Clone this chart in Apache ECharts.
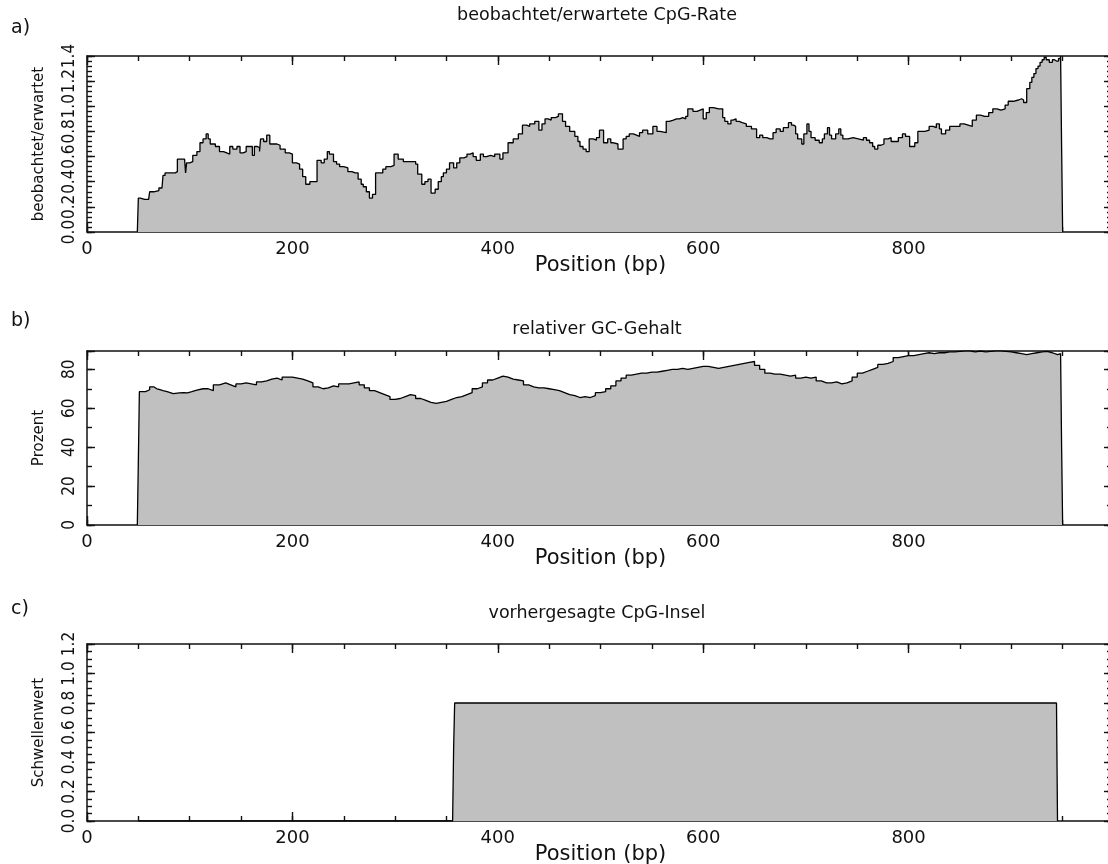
<!DOCTYPE html>
<html><head><meta charset="utf-8">
<script src="https://cdn.jsdelivr.net/npm/echarts@6/dist/echarts.min.js"></script>
<style>html,body{margin:0;padding:0;background:#fff}#c{width:1108px;height:864px}</style>
</head><body><div id="c"></div>
<script>
// ---- Data ----
const xTicks = [0, 200, 400, 600, 800];
// a) observed/expected CpG ratio
const posA = [49,50,52,56,60,61,65,70,73,74,76,80,86,88,92,95,96,97,100,103,107,110,113,116,118,120,125,129,133,136,139,142,146,149,152,155,159,161,163,166,168,169,172,175,178,182,185,188,193,197,200,204,207,210,213,217,220,224,228,231,234,236,238,240,243,246,250,254,258,261,264,267,269,272,275,278,281,285,288,291,296,299,303,308,314,320,322,326,329,332,335,339,342,345,347,350,353,357,360,363,367,370,373,376,379,383,386,389,393,397,402,405,410,415,420,424,428,431,436,440,443,446,449,452,456,459,463,466,470,475,478,480,483,486,489,493,496,499,503,507,510,512,517,522,525,528,532,535,538,541,546,551,555,558,564,567,571,574,577,580,583,585,590,594,597,600,603,606,610,615,619,621,624,627,629,632,635,638,642,647,652,655,658,662,665,668,671,675,678,683,686,688,690,692,696,698,701,703,705,709,713,716,718,721,723,725,729,732,734,736,741,746,751,756,759,762,765,767,770,773,776,780,783,786,790,794,797,801,803,806,809,813,816,820,824,827,830,832,836,840,845,850,854,858,862,866,870,874,878,882,886,890,894,897,902,907,910,912,915,918,920,922,924,926,928,930,932,934,937,940,942,944,946,948,949,950];
const rateA = [0,0.27,0.26,0.26,0.25,0.32,0.33,0.35,0.36,0.45,0.47,0.47,0.48,0.58,0.58,0.57,0.47,0.55,0.56,0.61,0.64,0.71,0.74,0.78,0.74,0.70,0.68,0.64,0.63,0.62,0.68,0.66,0.68,0.63,0.64,0.68,0.68,0.61,0.68,0.67,0.64,0.74,0.72,0.77,0.70,0.70,0.69,0.66,0.63,0.62,0.55,0.54,0.50,0.44,0.38,0.40,0.40,0.57,0.55,0.58,0.64,0.62,0.62,0.56,0.54,0.52,0.51,0.48,0.47,0.47,0.42,0.38,0.36,0.32,0.27,0.30,0.47,0.47,0.50,0.52,0.53,0.62,0.58,0.56,0.56,0.54,0.46,0.38,0.40,0.42,0.31,0.34,0.40,0.44,0.47,0.50,0.55,0.51,0.55,0.59,0.60,0.62,0.63,0.60,0.57,0.62,0.60,0.61,0.60,0.62,0.58,0.63,0.71,0.74,0.78,0.85,0.84,0.86,0.88,0.81,0.86,0.90,0.89,0.91,0.92,0.94,0.88,0.84,0.80,0.76,0.72,0.68,0.66,0.64,0.74,0.73,0.75,0.81,0.71,0.74,0.71,0.70,0.66,0.74,0.76,0.78,0.77,0.76,0.79,0.81,0.78,0.84,0.80,0.79,0.88,0.89,0.90,0.90,0.91,0.90,0.92,0.98,0.96,0.97,0.98,0.90,0.95,0.99,0.98,0.98,0.91,0.88,0.86,0.89,0.90,0.88,0.87,0.86,0.84,0.82,0.75,0.77,0.75,0.74,0.74,0.79,0.82,0.80,0.83,0.87,0.85,0.84,0.78,0.74,0.70,0.78,0.86,0.80,0.75,0.73,0.71,0.74,0.78,0.83,0.77,0.74,0.78,0.82,0.77,0.74,0.75,0.74,0.73,0.75,0.73,0.71,0.68,0.66,0.69,0.70,0.74,0.75,0.72,0.72,0.75,0.78,0.76,0.68,0.68,0.71,0.80,0.80,0.81,0.84,0.83,0.86,0.82,0.78,0.81,0.84,0.84,0.86,0.85,0.84,0.89,0.93,0.92,0.92,0.95,0.98,0.97,0.98,1.01,1.04,1.05,1.06,1.05,1.03,1.14,1.19,1.23,1.26,1.30,1.32,1.35,1.37,1.39,1.37,1.35,1.37,1.36,1.36,1.38,1.40,0.67,0];
// b) relative GC content (%)
const posB = [
  49,50,51,53,57,61,65,68,71,74,78,84,90,94,98,102,107,113,118,123,129,
  135,140,145,150,155,160,165,170,175,180,
  185,190,195,200,205,210,215,220,225,230,
  235,240,245,250,255,260,265,270,275,280,
  285,290,295,300,305,310,315,320,325,330,
  335,340,345,350,355,360,365,370,375,380,
  385,390,395,400,405,410,415,420,425,430,
  435,440,445,450,455,460,465,470,475,480,
  485,490,495,500,505,510,515,520,525,530,
  535,540,545,550,555,560,565,570,575,580,
  585,590,595,600,605,610,615,620,625,630,
  635,640,645,650,655,660,665,670,675,680,
  685,690,695,700,705,710,715,720,725,730,
  735,740,745,750,755,760,765,770,775,780,
  785,790,795,800,805,810,815,820,825,830,
  835,840,845,850,855,860,865,870,875,880,
  885,890,895,900,905,910,915,920,925,930,
  935,940,945,948,949,950];
const gcB = [
  0,33,68.5,68.5,69.5,71,70,69.5,69,68.5,67.5,67.9,68,67.9,68.5,69.3,70,70,69,72,73,
  72,71,72.5,73,72.5,72,73.5,74,75,75.5,
  74.5,76,76,75.5,75,74,73,71,70,70.5,
  71.5,71,72.5,72.5,73,73.5,72,70.5,69,68,
  67,66,64.5,65,66,67,66.5,65,64,63,
  62.5,63,63.5,64.5,65.5,66,67,68,70,71,
  73,74.5,75.5,76.5,76,75,74.5,74,72,71,
  70.5,70.5,70,69.5,69,68,67,66.5,65.5,66,
  65.5,66.5,68,68.5,70,71.5,74,75.5,77,77.5,
  78,78,78.5,78.5,79,79.5,80,80,80.5,80,
  80.5,81,81.5,81.5,81,80.5,81,81.5,82,82.5,
  83,83.5,84,82,80,78,77.5,77.5,77,76.5,
  77,75.5,76,75.5,76,74,73,73,73.5,72.5,
  73,74,76,78,79,80,81,82.5,83,84,
  86,86.5,87,87,87.5,88,88.5,88,88.5,88.5,
  89,89,89.2,89.4,89.4,89,89.4,89,89.2,89.4,
  89.4,89.2,89,88.5,88,87.5,88,88.5,89,89.2,
  88.5,87.5,88,89,40,0];
// c) predicted CpG island (threshold)
const posC = [50,356,357,358,944,945];
const islandC = [0,0,0.5,0.8,0.8,0];

// ---- Chart ----
const FONT = 'DejaVu Sans';
const LINE = '#111';
const zip = (xs, ys) => xs.map((x, i) => [x, ys[i]]);
const grids = [
  {left: 87, top: 56, width: 1027, height: 176, outerBoundsMode: 'none', containLabel: false},
  {left: 87, top: 351, width: 1027, height: 174, outerBoundsMode: 'none', containLabel: false},
  {left: 87, top: 644, width: 1027, height: 177, outerBoundsMode: 'none', containLabel: false}
];
const yCfg = [
  {name: 'beobachtet/erwartet', max: 1.4, interval: 0.2, minor: 0.04, fmt: v => v.toFixed(1)},
  {name: 'Prozent', max: 89.4, interval: 20, minor: 10, fmt: v => String(Math.round(v))},
  {name: 'Schwellenwert', max: 1.2, interval: 0.2, minor: 0.05, fmt: v => v.toFixed(1)}
];
// tick-only helper axis: no line, no labels
function tickAxis(base, interval, len, inside, offset) {
  return Object.assign({}, base, {
    interval: interval,
    offset: offset || 0,
    splitLine: {show: false},
    axisLine: {show: false, onZero: false},
    axisTick: {show: true, inside: inside, length: len, lineStyle: {color: LINE, width: 1.4}},
    axisLabel: {show: false}
  });
}
// frame line axis without ticks
function lineAxis(base, interval, onZero) {
  return Object.assign({}, base, {
    interval: interval,
    splitLine: {show: false},
    axisLine: {show: true, onZero: onZero, lineStyle: {color: LINE, width: 1.5}},
    axisTick: {show: false},
    axisLabel: {show: false}
  });
}
const xAxes = [], yAxes = [];
grids.forEach((g, i) => {
  const xb = {type: 'value', gridIndex: i, min: 0, max: 1000};
  const xMain = lineAxis(Object.assign({position: 'bottom'}, xb), 200, true);
  xMain.name = 'Position (bp)';
  xMain.nameLocation = 'middle';
  xMain.nameGap = 23;
  xMain.nameMoveOverlap = false;
  xMain.nameTextStyle = {fontFamily: FONT, fontSize: 21, color: '#111'};
  xMain.axisLabel = {show: true, margin: 8, fontFamily: FONT, fontSize: 18, color: '#111',
    formatter: v => (xTicks.indexOf(v) >= 0 ? String(v) : '')};
  xAxes.push(xMain);
  // bottom-edge ticks: top-type axes shifted down onto the bottom edge, pointing up into the plot
  xAxes.push(tickAxis(Object.assign({position: 'top'}, xb), 200, 9, false, -g.height));
  xAxes.push(tickAxis(Object.assign({position: 'top'}, xb), 50, 5, false, -g.height));
  // top edge line and ticks pointing down
  xAxes.push(lineAxis(Object.assign({position: 'top'}, xb), 200, false));
  xAxes.push(tickAxis(Object.assign({position: 'top'}, xb), 200, 9, true, 0));
  xAxes.push(tickAxis(Object.assign({position: 'top'}, xb), 50, 5, true, 0));

  const c = yCfg[i];
  const yb = {type: 'value', gridIndex: i, min: 0, max: c.max};
  const yMain = lineAxis(Object.assign({position: 'left'}, yb), c.interval, true);
  yMain.name = c.name;
  yMain.nameLocation = 'middle';
  yMain.nameRotate = 90;
  yMain.nameGap = 40;
  yMain.nameMoveOverlap = false;
  yMain.nameTextStyle = {fontFamily: FONT, fontSize: 15, color: '#111'};
  yMain.axisLabel = {show: true, rotate: 90, margin: 9,
    fontFamily: 'Liberation Sans Narrow, DejaVu Sans Condensed, ' + FONT,
    fontSize: 17, color: '#111', showMaxLabel: i !== 1, formatter: c.fmt};
  yAxes.push(yMain);
  // left-edge ticks: right-type axes shifted onto the left edge, pointing right into the plot
  yAxes.push(tickAxis(Object.assign({position: 'right'}, yb), c.interval, 8, false, -g.width));
  yAxes.push(tickAxis(Object.assign({position: 'right'}, yb), c.minor, 5, false, -g.width));
  // right edge line and ticks
  yAxes.push(lineAxis(Object.assign({position: 'right'}, yb), c.interval, false));
  yAxes.push(tickAxis(Object.assign({position: 'right'}, yb), c.interval, 10, true, 0));
  yAxes.push(tickAxis(Object.assign({position: 'right'}, yb), c.minor, 7, true, 0));
});
const seriesData = [zip(posA, rateA), zip(posB, gcB), zip(posC, islandC)];
const series = seriesData.map((d, i) => ({
  type: 'line', xAxisIndex: i * 6, yAxisIndex: i * 6, data: d,
  showSymbol: false, symbol: 'none', clip: true,
  step: i < 2 ? 'end' : false,
  lineStyle: {color: '#000', width: 1.3},
  areaStyle: {color: '#c0c0c0', opacity: 1},
  z: 1
}));
const tStyle = {fontFamily: FONT, fontSize: 17.5, fontWeight: 'normal', color: '#111'};
const lStyle = {fontFamily: FONT, fontSize: 19, fontWeight: 'normal', color: '#111'};
const chart = echarts.init(document.getElementById('c'), null, {renderer: 'canvas'});
chart.setOption({
  animation: false,
  backgroundColor: '#fff',
  title: [
    {text: 'a)', left: 11, top: 19, padding: 0, textStyle: lStyle},
    {text: 'beobachtet/erwartete CpG-Rate', left: 597, textAlign: 'center', top: 6, padding: 0, textStyle: tStyle},
    {text: 'b)', left: 11, top: 312, padding: 0, textStyle: lStyle},
    {text: 'relativer GC-Gehalt', left: 597, textAlign: 'center', top: 320, padding: 0, textStyle: tStyle},
    {text: 'c)', left: 11, top: 600, padding: 0, textStyle: lStyle},
    {text: 'vorhergesagte CpG-Insel', left: 597, textAlign: 'center', top: 604, padding: 0, textStyle: tStyle}
  ],
  grid: grids,
  xAxis: xAxes,
  yAxis: yAxes,
  series: series
});
</script>
</body></html>
